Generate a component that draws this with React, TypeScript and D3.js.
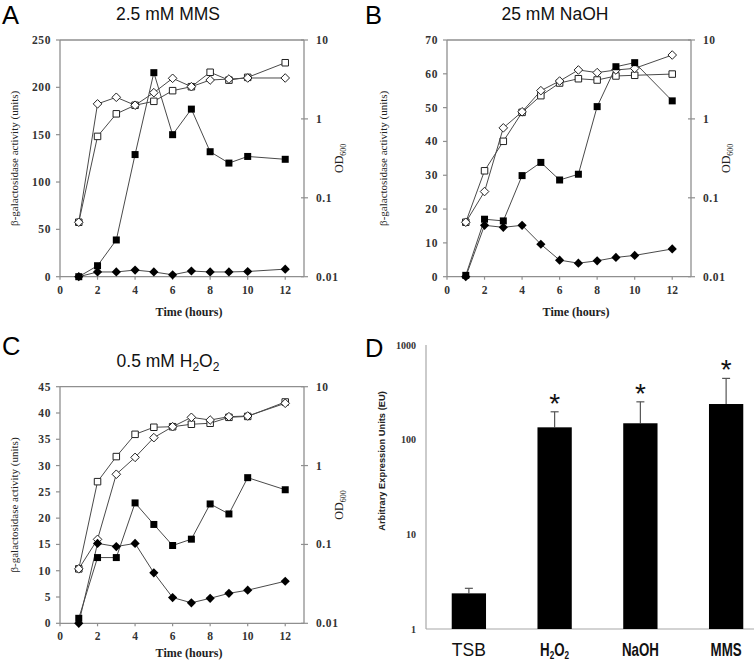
import React from 'react';
import * as d3 from 'd3';

const hours = [1, 2, 3, 4, 5, 6, 7, 8, 9, 10, 12];

// Panel A: 2.5 mM MMS
const mmsBgal = [0, 11.6, 38.8, 129, 215.5, 150, 177, 132, 120, 127, 124];
const mmsBgalCtrl = [0, 5, 5, 7, 5, 2, 6, 5, 5, 5.5, 8];
const mmsOdTreated = [0.049, 0.6, 1.16, 1.49, 1.67, 2.28, 2.56, 3.9, 3.1, 3.36, 5.15];
const mmsOdCtrl = [0.049, 1.55, 1.88, 1.49, 2.15, 3.27, 2.56, 3.11, 3.2, 3.3, 3.3];

// Panel B: 25 mM NaOH
const naohBgal = [0.4, 17, 16.5, 29.9, 33.8, 28.6, 30.3, 50.3, 62.1, 63.3, 52];
const naohBgalCtrl = [0, 15.2, 14.6, 15.2, 9.6, 4.9, 4.0, 4.7, 5.7, 6.3, 8.2];
const naohOdTreated = [0.049, 0.22, 0.52, 1.21, 1.97, 2.85, 3.23, 3.11, 3.5, 3.57, 3.7];
const naohOdCtrl = [0.049, 0.12, 0.77, 1.23, 2.28, 3.02, 4.17, 3.86, 4.17, 4.37, 6.45];

// Panel C: 0.5 mM H2O2
const h2o2Bgal = [0.95, 12.5, 12.5, 22.9, 18.8, 14.8, 16.0, 22.7, 20.8, 27.7, 25.4];
const h2o2BgalCtrl = [0, 15.2, 14.6, 15.2, 9.6, 4.9, 3.9, 4.75, 5.7, 6.3, 8.0];
const h2o2OdTreated = [0.049, 0.625, 1.3, 2.49, 3.06, 3.11, 3.34, 3.44, 4.09, 4.2, 6.4];
const h2o2OdCtrl = [0.049, 0.116, 0.776, 1.27, 2.26, 3.11, 4.09, 3.78, 4.17, 4.25, 6.16];

const timeTicks = [0, 2, 4, 6, 8, 10, 12];
const odTicks = [0.01, 0.1, 1, 10];
const odTickLabels = ['0.01', '0.1', '1', '10'];
const mmsTicks = [0, 50, 100, 150, 200, 250];
const naohTicks = [0, 10, 20, 30, 40, 50, 60, 70];
const h2o2Ticks = [0, 5, 10, 15, 20, 25, 30, 35, 40, 45];

// Panel D
const dCategories = ['TSB', 'H2O2', 'NaOH', 'MMS'];
const dValues = [2.38, 135, 149, 238];
const dErrors = [0.31, 62, 102, 206];
const dSignificant = [false, true, true, true];
const dTicks = [1, 10, 100, 1000];

const SERIF = "'Liberation Serif', 'Times New Roman', serif";
const SANS = "'Liberation Sans', Arial, sans-serif";
const AXIS = '#8f8f8f';
const LINE = '#4a4a4a';

const diamondPath = (r: number) => `M0,${-r}L${r},0L0,${r}L${-r},0Z`;
const squarePath = (s: number) => `M${-s / 2},${-s / 2}h${s}v${s}h${-s}Z`;

type PanelProps = {
  left: number; right: number; top: number; bottom: number;
  yMax: number; yTicks: number[];
  fs: number[]; fd: number[]; os: number[]; od: number[];
  ylabelX: number; xlabelDy: number;
  title: React.ReactNode;
};

function LinePanel(p: PanelProps) {
  const { left, right, top, bottom, yMax, yTicks, fs, fd, os, od, ylabelX, xlabelDy, title } = p;
  const x = d3.scaleLinear().domain([0, 13]).range([left, right]);
  const y = d3.scaleLinear().domain([0, yMax]).range([bottom, top]);
  const yr = d3.scaleLog().domain([0.01, 10]).range([bottom, top]);
  const lineL = d3.line<number>().x((_, i) => x(hours[i])).y((d) => y(d));
  const lineR = d3.line<number>().x((_, i) => x(hours[i])).y((d) => yr(d));
  const midY = (top + bottom) / 2;
  return (
    <g>
      <line x1={left} x2={right} y1={top} y2={top} stroke={AXIS} strokeWidth={1.3} />
      <line x1={left} x2={left} y1={top} y2={bottom} stroke={AXIS} strokeWidth={1.3} />
      <line x1={right} x2={right} y1={top} y2={bottom} stroke={AXIS} strokeWidth={1.3} />
      <line x1={left} x2={right} y1={bottom} y2={bottom} stroke={AXIS} strokeWidth={1.3} />
      {yTicks.map((t) => (
        <g key={'l' + t}>
          <line x1={left - 4} x2={left} y1={y(t)} y2={y(t)} stroke={AXIS} strokeWidth={1.2} />
          <text x={left - 9} y={y(t)} dy="0.35em" textAnchor="end" fontFamily={SERIF} fontWeight="bold" fontSize={11.5} fill="#333" letterSpacing={0.6}>{t}</text>
        </g>
      ))}
      {odTicks.map((t, i) => (
        <g key={'r' + t}>
          <line x1={right - 3} x2={right + 4} y1={yr(t)} y2={yr(t)} stroke={AXIS} strokeWidth={1.2} />
          <text x={right + 12} y={yr(t)} dy="0.35em" textAnchor="start" fontFamily={SERIF} fontWeight="bold" fontSize={11.5} fill="#333" letterSpacing={0.6}>{odTickLabels[i]}</text>
        </g>
      ))}
      {timeTicks.map((t) => (
        <g key={'x' + t}>
          <line x1={x(t)} x2={x(t)} y1={bottom} y2={bottom + 3} stroke={AXIS} strokeWidth={1.2} />
          <text x={x(t)} y={bottom + 17} textAnchor="middle" fontFamily={SERIF} fontWeight="bold" fontSize={11.5} fill="#333">{t}</text>
        </g>
      ))}
      <text x={left + 129} y={bottom + xlabelDy} textAnchor="middle" fontFamily={SERIF} fontWeight="bold" fontSize={12} fill="#222">Time (hours)</text>
      <text transform={`translate(${ylabelX},${midY}) rotate(-90)`} textAnchor="middle" dy="0.35em" fontFamily={SERIF} fontSize={11} fill="#222">β-galactosidase activity (units)</text>
      <text transform={`translate(${right + 35},${midY}) rotate(-90)`} textAnchor="middle" dy="0.35em" fontFamily={SERIF} fontSize={12} fill="#222">OD<tspan fontSize={8} dy={3}>600</tspan></text>
      <text x={left + 108} y={top - 20} textAnchor="middle" fontFamily={SANS} fontSize={17.5} fill="#111">{title}</text>
      <path d={lineR(os) || ''} fill="none" stroke={LINE} strokeWidth={1} />
      <path d={lineR(od) || ''} fill="none" stroke={LINE} strokeWidth={1} />
      <path d={lineL(fs) || ''} fill="none" stroke={LINE} strokeWidth={1} />
      <path d={lineL(fd) || ''} fill="none" stroke={LINE} strokeWidth={1} />
      {os.map((v, i) => (
        <path key={'os' + i} d={squarePath(6.5)} transform={`translate(${x(hours[i])},${yr(v)})`} fill="#fff" stroke="#222" strokeWidth={1} />
      ))}
      {od.map((v, i) => (
        <path key={'od' + i} d={diamondPath(4.3)} transform={`translate(${x(hours[i])},${yr(v)})`} fill="#fff" stroke="#222" strokeWidth={1} />
      ))}
      {fs.map((v, i) => (
        <path key={'fs' + i} d={squarePath(7)} transform={`translate(${x(hours[i])},${y(v)})`} fill="#000" />
      ))}
      {fd.map((v, i) => (
        <path key={'fd' + i} d={diamondPath(4.6)} transform={`translate(${x(hours[i])},${y(v)})`} fill="#000" />
      ))}
    </g>
  );
}

function BarPanel() {
  const left = 426;
  const bottom = 629;
  const top = 345;
  const xb = d3.scaleBand().domain(dCategories).range([left, 769]).paddingInner(0.6).paddingOuter(0.3);
  const yl = d3.scaleLog().domain([1, 1000]).range([bottom, top]);
  const bw = xb.bandwidth();
  return (
    <g>
      <line x1={left} x2={left} y1={top} y2={bottom} stroke="#a8a8a8" strokeWidth={1.2} />
      <line x1={left} x2={754} y1={bottom} y2={bottom} stroke="#a8a8a8" strokeWidth={1.2} />
      {dTicks.map((t) => (
        <text key={t} x={left - 10} y={yl(t)} dy="0.35em" textAnchor="end" fontFamily={SERIF} fontWeight="bold" fontSize={10} fill="#333">{t}</text>
      ))}
      <text transform={`translate(382,461) rotate(-90)`} textAnchor="middle" dy="0.35em" fontFamily={SANS} fontWeight="bold" fontSize={9.3} fill="#222">Arbitrary Expression Units (EU)</text>
      {dCategories.map((c, i) => {
        const cx = (xb(c) as number) + bw / 2;
        const v = dValues[i];
        const e = v + dErrors[i];
        return (
          <g key={c}>
            <line x1={cx} x2={cx} y1={yl(v)} y2={yl(e)} stroke="#555" strokeWidth={1.2} />
            <line x1={cx - 4} x2={cx + 4} y1={yl(e)} y2={yl(e)} stroke="#555" strokeWidth={1.2} />
            <rect x={xb(c)} y={yl(v)} width={bw} height={bottom - yl(v)} fill="#000" />
            {dSignificant[i] && (
              <text x={cx} y={yl(e) + 1} textAnchor="middle" fontFamily={SANS} fontSize={28} fill="#111">*</text>
            )}
          </g>
        );
      })}
      {dCategories.map((c) => {
        const cx = (xb(c) as number) + bw / 2;
        if (c === 'TSB') {
          return <text key={'lab' + c} x={cx} y={656} textAnchor="middle" fontFamily={SANS} fontSize={17.5} fill="#111">TSB</text>;
        }
        const content = c === 'H2O2'
          ? (<>H<tspan fontSize={11} dy={2.5}>2</tspan><tspan dy={-2.5}>O</tspan><tspan fontSize={11} dy={2.5}>2</tspan></>)
          : c;
        return (
          <text key={'lab' + c} transform={`translate(${cx},656) scale(0.74,1)`} textAnchor="middle" fontFamily={SANS} fontWeight="bold" fontSize={18} fill="#111">{content}</text>
        );
      })}
    </g>
  );
}

export default function App() {
  return (
    <div style={{ position: 'absolute', left: 0, top: 0 }}>
      <svg width={754} height={661} style={{ display: 'block', background: '#fff' }}>
        <rect width={754} height={661} fill="#fff" />
        <LinePanel left={60} right={304} top={40} bottom={276.7} yMax={250} yTicks={mmsTicks}
          fs={mmsBgal} fd={mmsBgalCtrl} os={mmsOdTreated} od={mmsOdCtrl} ylabelX={14} xlabelDy={39} title="2.5 mM MMS" />
        <LinePanel left={447} right={691} top={40} bottom={276.7} yMax={70} yTicks={naohTicks}
          fs={naohBgal} fd={naohBgalCtrl} os={naohOdTreated} od={naohOdCtrl} ylabelX={383} xlabelDy={39} title="25 mM NaOH" />
        <LinePanel left={60} right={304} top={386.7} bottom={623.3} yMax={45} yTicks={h2o2Ticks}
          fs={h2o2Bgal} fd={h2o2BgalCtrl} os={h2o2OdTreated} od={h2o2OdCtrl} ylabelX={14} xlabelDy={34}
          title={<>0.5 mM H<tspan fontSize={12} dy={4}>2</tspan><tspan dy={-4}>O</tspan><tspan fontSize={12} dy={4}>2</tspan></>} />
        <BarPanel />
        <text x={2} y={24} fontFamily={SANS} fontSize={25.5} fill="#000">A</text>
        <text x={365} y={24} fontFamily={SANS} fontSize={25.5} fill="#000">B</text>
        <text x={2} y={355} fontFamily={SANS} fontSize={25.5} fill="#000">C</text>
        <text x={365} y={357} fontFamily={SANS} fontSize={25.5} fill="#000">D</text>
      </svg>
    </div>
  );
}
